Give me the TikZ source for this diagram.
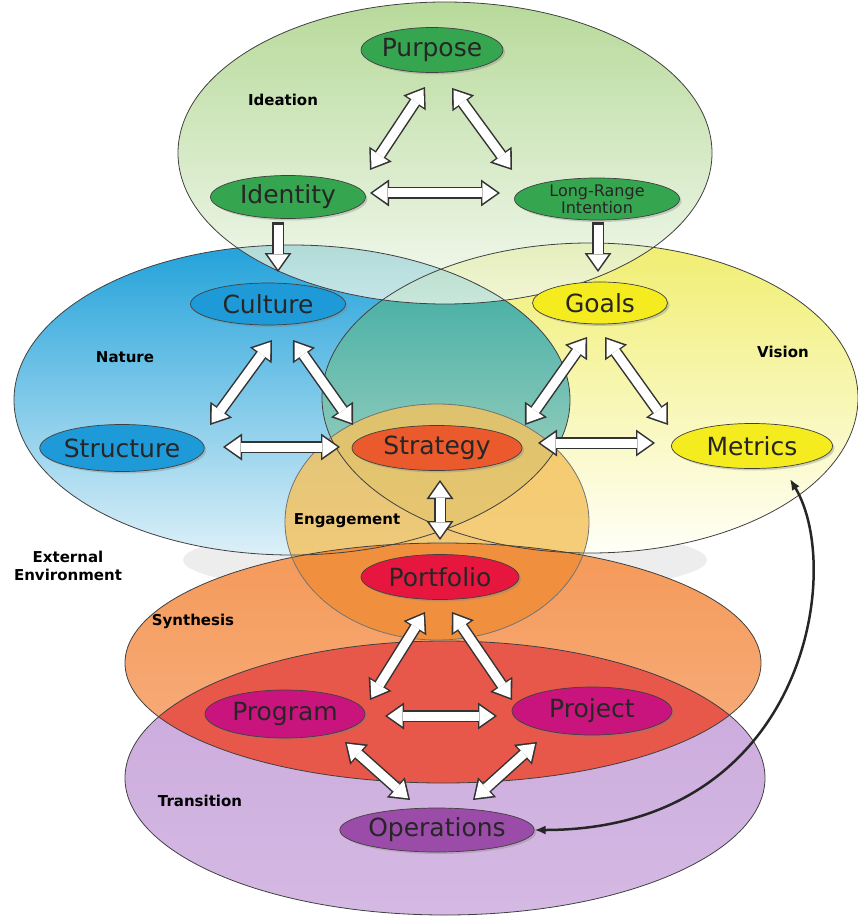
\documentclass[tikz,border=0pt]{standalone}
\usepackage{fontspec}
\setmainfont{DejaVu Sans}
\usetikzlibrary{shapes.geometric,arrows.meta,shadows}

\definecolor{ideatop}{HTML}{9FCD78}
\definecolor{ideabot}{HTML}{F2F8EE}
\definecolor{naturetop}{HTML}{22A2DA}
\definecolor{naturebot}{HTML}{DDF0F8}
\definecolor{visiontop}{HTML}{F0EE70}
\definecolor{visionbot}{HTML}{FFFFF8}
\definecolor{tealtop}{HTML}{36A8A0}
\definecolor{tealbot}{HTML}{B8DCC8}
\definecolor{engagefill}{HTML}{F4C25E}
\definecolor{engagedeep}{HTML}{F0903E}
\definecolor{synthfill}{HTML}{F49C62}
\definecolor{transfill}{HTML}{CAA8DC}
\definecolor{overlapred}{HTML}{E8584A}
\definecolor{nodegreen}{HTML}{35A550}
\definecolor{nodeblue}{HTML}{1E9AD8}
\definecolor{nodeyellow}{HTML}{F4EC1E}
\definecolor{nodeorange}{HTML}{EA5A2C}
\definecolor{nodecrimson}{HTML}{E6163E}
\definecolor{nodemagenta}{HTML}{C8147C}
\definecolor{nodepurple}{HTML}{9A4CA8}

\tikzset{
  zone/.style={draw=black!75, line width=0.8pt},
  stage/.style={ellipse, draw=black!75, line width=0.7pt, minimum width=158pt,
    minimum height=45pt, inner sep=0pt, text=black!85,
    font=\fontsize{25}{27}\selectfont,
    drop shadow={opacity=0.35, shadow xshift=2pt, shadow yshift=-2pt}},
  zonelabel/.style={font=\bfseries\fontsize{15}{18}\selectfont, align=center},
  fatout/.style={line width=12pt, draw=black!80,
    >={Triangle[length=19pt,width=27pt,line width=0pt]}},
  fatin/.style={line width=9pt, draw=white,
    >={Triangle[length=15pt,width=21pt,line width=0pt]},
    shorten <=2.6pt, shorten >=2.6pt},
  loopback/.style={line width=2.5pt, draw=black!85,
    {Latex[length=11pt,width=9pt]}-{Latex[length=11pt,width=9pt]}},
}

\newcommand{\fatlink}[3]{%
  \draw[fatout,#1] #2 -- #3;
  \draw[fatin,#1] #2 -- #3;}

\begin{document}
\begin{tikzpicture}[x=1pt,y=-1pt]
\useasboundingbox (0,0) rectangle (857,917);

% external environment (grey band)
\fill[gray!14] (445,560) ellipse [x radius=262pt, y radius=36pt];

% synthesis and transition
\shade[top color=synthfill!90!orange, bottom color=synthfill!80!white]
  (443,663) ellipse [x radius=318pt, y radius=120pt];
\shade[top color=transfill, bottom color=transfill!80!white]
  (445,778) ellipse [x radius=320pt, y radius=137pt];
\begin{scope}
  \clip (443,663) ellipse [x radius=318pt, y radius=120pt];
  \fill[overlapred] (445,778) ellipse [x radius=320pt, y radius=137pt];
\end{scope}

% nature and vision
\shade[top color=naturetop, bottom color=naturebot]
  (292,400) ellipse [x radius=278pt, y radius=155pt];
\shade[top color=visiontop, bottom color=visionbot]
  (590,398) ellipse [x radius=268pt, y radius=155pt];
\begin{scope}
  \clip (292,400) ellipse [x radius=278pt, y radius=155pt];
  \shade[top color=tealtop, bottom color=tealbot]
    (590,398) ellipse [x radius=268pt, y radius=155pt];
\end{scope}

% ideation
\shade[top color=ideatop, bottom color=ideabot, fill opacity=0.75]
  (445,153) ellipse [x radius=267pt, y radius=151pt];

% engagement
\fill[engagefill, fill opacity=0.82] (437,522) ellipse [x radius=152pt, y radius=118pt];
\begin{scope}
  \clip (443,663) ellipse [x radius=318pt, y radius=120pt];
  \fill[engagedeep] (437,522) ellipse [x radius=152pt, y radius=118pt];
\end{scope}

% outlines
\draw[zone] (443,663) ellipse [x radius=318pt, y radius=120pt];
\draw[zone] (445,778) ellipse [x radius=320pt, y radius=137pt];
\draw[zone] (292,400) ellipse [x radius=278pt, y radius=155pt];
\draw[zone] (590,398) ellipse [x radius=268pt, y radius=155pt];
\draw[zone] (445,153) ellipse [x radius=267pt, y radius=151pt];
\draw[zone, draw=black!55] (437,522) ellipse [x radius=152pt, y radius=118pt];

% zone labels
\node[zonelabel] (ideation) at (283,100) {Ideation};
\node[zonelabel] (nature) at (125,357) {Nature};
\node[zonelabel] (vision) at (783,352) {Vision};
\node[zonelabel] (engagement) at (347,521) {Engagement};
\node[zonelabel] (external) at (68,566) {External\\Environment};
\node[zonelabel] (synthesis) at (193,621) {Synthesis};
\node[zonelabel] (transition) at (200,801) {Transition};

% stages
\node[stage, fill=nodegreen, minimum width=135pt] (purpose) at (432,50) {Purpose};
\node[stage, fill=nodegreen, minimum width=155pt, minimum height=43pt] (identity) at (288,197) {Identity};
\node[stage, fill=nodegreen, minimum width=165pt, minimum height=42pt, align=center,
  font=\fontsize{16}{17}\selectfont] (lri) at (597,199) {Long-Range\\Intention};
\node[stage, fill=nodeblue, minimum width=155pt, minimum height=42pt] (culture) at (268,304) {Culture};
\node[stage, fill=nodeyellow, minimum width=135pt, minimum height=42pt] (goals) at (600,303) {Goals};
\node[stage, fill=nodeblue, minimum width=163pt, minimum height=47pt] (structure) at (122,448) {Structure};
\node[stage, fill=nodeorange, minimum width=170pt] (strategy) at (437,448) {Strategy};
\node[stage, fill=nodeyellow, minimum width=161pt] (metrics) at (752,446) {Metrics};
\node[stage, fill=nodecrimson] (portfolio) at (440,577) {Portfolio};
\node[stage, fill=nodemagenta, minimum width=160pt, minimum height=48pt] (program) at (285,714) {Program};
\node[stage, fill=nodemagenta, minimum width=160pt, minimum height=48pt] (project) at (592,711) {Project};
\node[stage, fill=nodepurple, minimum width=166pt, minimum height=44pt] (operations) at (437,830) {Operations};

% ideation links
\fatlink{<->}{([shift={(-7,37)}]purpose.center)}{([shift={(82,-27)}]identity.center)}
\fatlink{<->}{([shift={(20,38)}]purpose.center)}{([shift={(-85,-29)}]lri.center)}
\fatlink{<->}{([shift={(82,-4)}]identity.center)}{([shift={(-97,-6)}]lri.center)}
\fatlink{->}{([shift={(-10,25)}]identity.center)}{([shift={(10,-32)}]culture.center)}
\fatlink{->}{([shift={(1,23)}]lri.center)}{([shift={(-2,-31)}]goals.center)}

% nature and vision links
\fatlink{<->}{([shift={(4,36)}]culture.center)}{([shift={(88,-23)}]structure.center)}
\fatlink{<->}{([shift={(25,36)}]culture.center)}{([shift={(-84,-23)}]strategy.center)}
\fatlink{<->}{([shift={(101,-1)}]structure.center)}{([shift={(-97,-1)}]strategy.center)}
\fatlink{<->}{([shift={(-13,34)}]goals.center)}{([shift={(88,-23)}]strategy.center)}
\fatlink{<->}{([shift={(5,34)}]goals.center)}{([shift={(-84,-21)}]metrics.center)}
\fatlink{<->}{([shift={(101,-5)}]strategy.center)}{([shift={(-97,-3)}]metrics.center)}
\fatlink{<->}{([shift={(3,32)}]strategy.center)}{([shift={(0,-37)}]portfolio.center)}

% synthesis and transition links
\fatlink{<->}{([shift={(-15,35)}]portfolio.center)}{([shift={(85,-14)}]program.center)}
\fatlink{<->}{([shift={(12,35)}]portfolio.center)}{([shift={(-80,-11)}]project.center)}
\fatlink{<->}{([shift={(100,2)}]program.center)}{([shift={(-95,5)}]project.center)}
\fatlink{<->}{([shift={(60,28)}]program.center)}{([shift={(-27,-30)}]operations.center)}
\fatlink{<->}{([shift={(-55,31)}]project.center)}{([shift={(36,-30)}]operations.center)}

% operations back to metrics
\draw[loopback] (operations.east) .. controls (805,830) and (845,570) .. ([shift={(38,33)}]metrics.center);
\end{tikzpicture}
\end{document}
